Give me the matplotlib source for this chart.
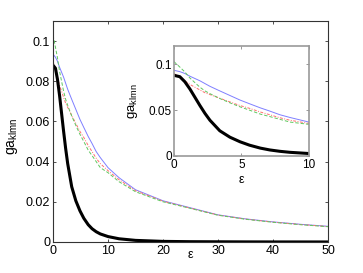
import matplotlib
matplotlib.use('Agg')
import matplotlib.pyplot as plt
import numpy as np

plt.rcParams['font.family'] = 'Liberation Sans'
plt.rcParams['mathtext.fontset'] = 'custom'
plt.rcParams['mathtext.rm'] = 'Liberation Sans'
plt.rcParams['mathtext.it'] = 'Liberation Sans'

# values
eps = [0, 0.44, 0.81, 1.19, 1.56, 1.93, 2.3, 2.67, 3.4, 4.15, 4.9, 5.6, 6.4,
       7.1, 7.85, 8.6, 10, 12, 15, 20, 25, 30, 35, 40, 45, 50]
black = [0.088, 0.0865, 0.081, 0.073, 0.064, 0.055, 0.0465, 0.039, 0.0275, 0.0205,
         0.0155, 0.0118, 0.0086, 0.0066, 0.0051, 0.0040, 0.0027, 0.0016, 0.0008,
         0.0003, 0.00015, 0.0001, 0.00005, 0.00003, 0.00002, 0.00001]
blue = [0.0935, 0.092, 0.090, 0.087, 0.0845, 0.082, 0.079, 0.076, 0.071, 0.066,
        0.061, 0.057, 0.0525, 0.049, 0.045, 0.042, 0.037, 0.032, 0.026, 0.0205,
        0.017, 0.0135, 0.0115, 0.010, 0.0088, 0.0078]
red = [0.090, 0.086, 0.082, 0.078, 0.075, 0.072, 0.069, 0.067, 0.063, 0.059,
       0.055, 0.052, 0.048, 0.045, 0.0417, 0.039, 0.0355, 0.031, 0.0255, 0.0203,
       0.0168, 0.0134, 0.0114, 0.0099, 0.0087, 0.0077]
green = [0.103, 0.097, 0.0917, 0.085, 0.080, 0.075, 0.071, 0.068, 0.0627, 0.058,
         0.0536, 0.050, 0.0457, 0.043, 0.040, 0.037, 0.0345, 0.030, 0.025, 0.020,
         0.0167, 0.0133, 0.0113, 0.0098, 0.0086, 0.0076]


def draw(ax):
    ax.plot(eps, blue, color='#7f7fff', lw=0.7)
    ax.plot(eps, red, color='#ff6f6f', lw=0.7, ls='-.', dashes=(3, 1.5, 1, 1.5))
    ax.plot(eps, green, color='#5fc85f', lw=0.7, ls='--', dashes=(3.5, 2))
    ax.plot(eps, black, color='black', lw=2.2)


fig = plt.figure(figsize=(3.63, 2.73), dpi=100)
ax = fig.add_axes([0.146, 0.1136, 0.758, 0.8095])
draw(ax)
ax.set_xlim(0, 50)
ax.set_ylim(0, 0.11)
ax.set_xticks([0, 10, 20, 30, 40, 50])
ax.set_yticks([0, 0.02, 0.04, 0.06, 0.08, 0.1])
ax.set_yticklabels(['0', '0.02', '0.04', '0.06', '0.08', '0.1'])
ax.tick_params(direction='in', top=True, right=True, length=2.5, width=0.6,
               labelsize=9, colors='#333333', labelcolor='black')
ax.tick_params(axis='x', pad=2.5)
ax.tick_params(axis='y', pad=2)
for s in ax.spines.values():
    s.set_color('#333333')
    s.set_linewidth(0.8)
ax.set_xlabel('ε', fontsize=9, va='center')
ax.xaxis.set_label_coords(0.498, -0.06)
ax.set_ylabel(r'$\mathrm{ga}_{\mathrm{klmn}}$', fontsize=10)
ax.yaxis.set_label_coords(-0.12, 0.48)

# inset with the first part of the curves
ins = fig.add_axes([0.479, 0.4286, 0.372, 0.403])
draw(ins)
ins.set_xlim(0, 10)
ins.set_ylim(0, 0.12)
ins.set_xticks([0, 5, 10])
ins.set_yticks([0, 0.05, 0.1])
ins.set_yticklabels(['0', '0.05', '0.1'])
ins.tick_params(direction='in', top=True, right=True, length=2.5, width=0.6,
                labelsize=8.5, colors='#888888', labelcolor='black')
ins.tick_params(axis='x', pad=2)
ins.tick_params(axis='y', pad=1.5)
for s in ins.spines.values():
    s.set_color('#999999')
    s.set_linewidth(1.2)
ins.set_xlabel('ε', fontsize=9, va='center')
ins.xaxis.set_label_coords(0.5, -0.22)
ins.set_ylabel(r'$\mathrm{ga}_{\mathrm{klmn}}$', fontsize=9.5)
ins.yaxis.set_label_coords(-0.25, 0.5)

fig.savefig('out.png', dpi=100)
